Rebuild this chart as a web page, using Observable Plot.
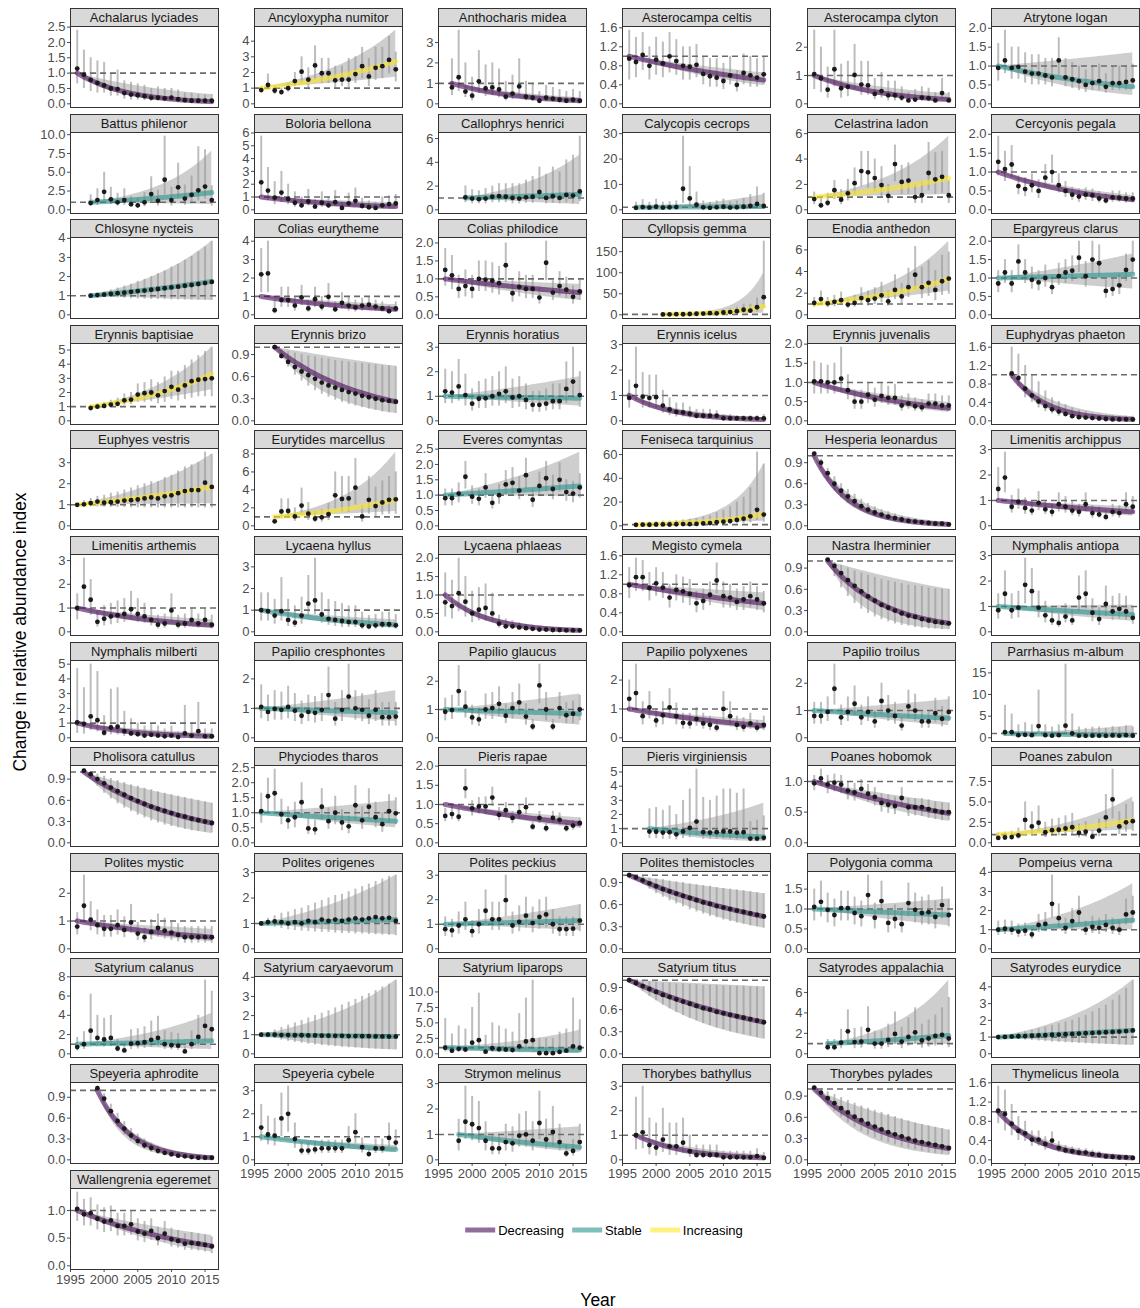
<!DOCTYPE html>
<html><head><meta charset="utf-8">
<script src="https://cdn.jsdelivr.net/npm/d3@7"></script>
<script src="https://cdn.jsdelivr.net/npm/@observablehq/plot@0.6"></script>
<style>
body{margin:0;background:#fff;}
#fig{position:relative;width:1140px;height:1308px;font-family:"Liberation Sans",Arial,sans-serif;overflow:hidden;background:#fff;}
.strip{position:absolute;background:#d9d9d9;border:1px solid #333;box-sizing:border-box;font-size:13px;color:#1a1a1a;text-align:center;white-space:nowrap;overflow:hidden;}
.pn{position:absolute;}
.ttl{position:absolute;font-size:17.5px;color:#000;white-space:nowrap;}
.leg{position:absolute;display:flex;align-items:center;font-size:13px;color:#000;}
.sw{display:inline-block;width:30px;height:5px;margin:0 3px 0 8px;}
</style></head><body><div id="fig"></div>
<script>
const species = ["Achalarus lyciades","Ancyloxypha numitor","Anthocharis midea","Asterocampa celtis","Asterocampa clyton","Atrytone logan",
"Battus philenor","Boloria bellona","Callophrys henrici","Calycopis cecrops","Celastrina ladon","Cercyonis pegala",
"Chlosyne nycteis","Colias eurytheme","Colias philodice","Cyllopsis gemma","Enodia anthedon","Epargyreus clarus",
"Erynnis baptisiae","Erynnis brizo","Erynnis horatius","Erynnis icelus","Erynnis juvenalis","Euphydryas phaeton",
"Euphyes vestris","Eurytides marcellus","Everes comyntas","Feniseca tarquinius","Hesperia leonardus","Limenitis archippus",
"Limenitis arthemis","Lycaena hyllus","Lycaena phlaeas","Megisto cymela","Nastra lherminier","Nymphalis antiopa",
"Nymphalis milberti","Papilio cresphontes","Papilio glaucus","Papilio polyxenes","Papilio troilus","Parrhasius m-album",
"Pholisora catullus","Phyciodes tharos","Pieris rapae","Pieris virginiensis","Poanes hobomok","Poanes zabulon",
"Polites mystic","Polites origenes","Polites peckius","Polites themistocles","Polygonia comma","Pompeius verna",
"Satyrium calanus","Satyrium caryaevorum","Satyrium liparops","Satyrium titus","Satyrodes appalachia","Satyrodes eurydice",
"Speyeria aphrodite","Speyeria cybele","Strymon melinus","Thorybes bathyllus","Thorybes pylades","Thymelicus lineola",
"Wallengrenia egeremet"];

const trendClass = ["D","I","D","D","D","S", "S","D","S","S","I","D", "S","D","D","I","I","S",
"I","D","S","D","D","D", "I","I","S","I","D","D", "D","S","D","D","D","S",
"D","S","S","D","S","S", "D","S","D","S","D","I", "D","S","S","D","S","S",
"S","S","S","D","S","S", "D","S","S","D","D","D", "D"];

const firstYear = [1996,1996,1997,1996,1996,1996, 1998,1996,1999,1997,1996,1996, 1998,1996,1996,2001,1996,1996,
1998,1998,1996,1996,1996,1998, 1996,1998,1996,1997,1996,1996, 1996,1996,1996,1996,1998,1996,
1996,1996,1996,1996,1996,1997, 1997,1996,1996,1999,1996,1996, 1996,1996,1996,1996,1996,1996,
1996,1996,1996,1996,1998,1996, 1999,1996,1998,1997,1996,1996, 1996];

const yStep = [0.5,1,1,0.4,1,0.5, 2.5,1,2,10,2,0.5, 1,1,0.5,50,2,0.5, 1,0.3,1,1,0.5,0.4,
1,2,0.5,20,0.3,1, 1,1,0.5,0.4,0.3,1, 1,1,1,1,1,5, 0.3,0.5,0.5,1,0.5,2.5,
1,1,1,0.3,0.5,1, 2,1,2.5,0.3,2,1, 0.3,1,1,1,0.3,0.4, 0.5];

const yearTicks = [1995,2000,2005,2010,2015];

// annual index values
const index = [
[1.15,.95,.78,.68,.6,.5,.48,.35,.3,.28,.25,.2,.2,.18,.2,.15,.12,.1,.1,.1,.1],
[.88,1.2,.85,.75,1.0,1.45,2.05,1.55,2.45,1.95,1.95,1.5,1.55,1.55,1.9,2.4,1.75,2.3,2.4,2.8,2.2],
[.8,1.3,.6,.4,1.1,.75,.8,.7,.35,.5,.85,.35,.3,.15,.3,.25,.2,.15,.2,.15],
[.95,.88,1.03,.8,.93,.85,1.0,.9,.8,.78,.82,.63,.58,.55,.48,.6,.4,.65,.6,.55,.62],
[1.05,.9,.5,1.22,.55,.6,1.02,.68,.65,.35,.45,.3,.3,.22,.12,.15,.22,.2,.12,.38,.12],
[.95,1.15,.95,.98,.85,.8,.8,.75,.7,1.15,.7,.65,.6,.5,.55,.6,.45,.55,.55,.58,.62],
[.9,1.3,2.4,1.4,1.0,1.3,.75,.6,1.0,2.1,1.2,4.0,1.3,3.0,1.5,2.0,2.6,3.1,1.3],
[2.15,1.5,.95,1.35,.85,.55,.35,.65,.25,.55,.35,.6,.15,.5,.7,.3,.2,.15,.35,.45,.5],
[1.05,.95,.9,.95,1.1,1.15,1.1,1.0,.95,1.05,1.1,1.5,1.0,1.15,1.0,1.25,1.2,1.55],
[.8,1.1,.9,1.2,.9,1.0,1.1,8.3,4.5,2.0,1.0,.8,1.0,1.2,.9,1.0,1.2,1.5,2.3,1.5],
[.85,.35,.55,1.55,.8,1.3,2.1,3.05,2.95,2.5,1.95,1.1,3.6,2.2,2.3,1.0,1.15,2.9,2.4,2.6,1.15],
[1.27,1.08,1.2,.63,.55,.65,.5,.85,1.0,.65,.5,.4,.35,.4,.38,.3,.25,.33,.32,.3,.3],
[1.0,1.03,1.06,1.1,1.13,1.16,1.2,1.24,1.27,1.31,1.35,1.39,1.43,1.47,1.52,1.56,1.61,1.66,1.72],
[2.2,2.25,.25,.8,.8,.5,.95,.35,.85,.45,.98,.3,.65,.5,.4,.5,.55,.45,.35,.2,.35],
[1.25,1.1,.72,.8,.72,1.0,.98,.95,.88,1.38,.6,.78,.72,.72,.48,1.45,.62,.8,.7,.5,.65],
[1.0,1.2,1.5,1.3,2.0,2.5,3.0,4.0,3.5,5.5,6.5,8.5,12,10,18,42],
[1.1,1.45,1.05,1.2,1.35,.95,1.1,1.55,1.35,1.5,1.8,1.25,2.3,1.7,2.55,3.7,2.55,2.95,2.3,3.1,3.35],
[.85,1.15,.85,1.45,1.15,.95,.88,1.0,.75,1.05,1.15,1.2,1.55,1.05,1.5,1.4,.65,.7,.8,1.22,1.5],
[.9,1.0,1.05,1.15,1.2,1.45,1.5,1.85,1.95,2.0,1.8,2.1,2.4,2.2,2.5,2.8,2.9,2.95,3.0],
[1.0,.88,.8,.73,.67,.62,.57,.52,.48,.45,.42,.39,.37,.34,.32,.3,.28,.27,.26],
[1.2,1.15,1.4,1.05,.7,.9,.92,1.0,1.1,1.2,.95,1.0,.85,.65,.65,.7,.8,.8,1.3,1.6,1.05],
[.9,1.38,.95,.9,.93,.6,.45,.35,.33,.28,.2,.2,.2,.2,.1,.1,.1,.1,.1,.1,.1],
[1.03,1.03,1.0,1.0,1.1,.8,.5,.5,.68,.55,.65,.6,.6,.4,.45,.38,.35,.45,.45,.4,.4],
[1.03,.93,.7,.55,.42,.32,.25,.2,.15,.1,.08,.07,.06,.05,.04,.03,.03,.03,.03],
[1.0,1.02,1.08,1.15,1.1,1.12,1.15,1.2,1.22,1.25,1.3,1.35,1.3,1.4,1.45,1.55,1.65,1.7,1.7,2.05,1.85],
[.5,1.6,1.65,1.05,2.25,1.35,.8,.95,1.3,3.4,3.0,3.05,4.25,1.05,2.9,2.2,2.6,2.9,2.95],
[.9,.9,1.05,1.6,.95,.88,1.25,.75,1.0,1.35,1.4,1.15,1.65,.85,1.3,1.55,1.2,1.5,1.1,1.05,1.25],
[.8,1.0,.9,1.1,1.2,1.1,1.3,1.5,1.4,1.6,2.0,2.3,3.0,3.5,4.0,5.0,6.0,8.0,13.5,9.5],
[1.03,.9,.75,.6,.5,.42,.35,.28,.23,.19,.16,.13,.11,.09,.07,.06,.05,.04,.03,.03,.02],
[1.45,1.9,.75,.95,.7,.6,.9,.65,.55,.85,.75,.6,.55,.85,.5,.45,.35,.55,.5,.85,.75],
[1.0,1.9,1.35,.42,.55,.65,.7,.75,.95,.75,.65,.5,.3,.35,.9,.3,.35,.5,.35,.5,.3],
[1.0,.95,.75,.95,.55,.42,.75,1.3,1.45,.8,.6,.55,.5,.45,.45,.3,.25,.3,.35,.35,.3],
[.8,.7,1.05,.82,.5,.6,.65,.5,.22,.15,.15,.12,.1,.08,.06,.06,.05,.05,.04,.04,.04],
[.98,1.15,1.15,.92,1.02,.93,.72,.88,.85,.8,.6,.65,.78,1.08,.75,.72,.63,.68,.75,.68,.6],
[1.02,.93,.83,.73,.65,.57,.5,.44,.38,.34,.3,.26,.23,.21,.18,.16,.14,.13,.12],
[.85,1.5,.85,.95,1.85,1.6,.95,.65,.45,.35,.6,.45,1.35,1.5,.75,.5,1.1,.8,.9,.8,.55],
[1.05,.95,1.45,1.2,.35,.7,.75,.45,.3,.25,.15,.2,.15,.1,.15,.05,.3,.15,.45,.1,.1],
[1.05,.88,.98,.95,1.05,.92,.75,.88,.85,.95,1.45,.65,.95,1.4,1.0,.95,.75,.95,.7,.7,.72],
[.92,.98,1.65,1.1,.72,.65,1.0,1.05,1.2,.78,1.05,1.25,.75,.4,1.85,1.0,.4,1.05,.8,.85,1.0],
[1.35,1.55,.75,1.05,.6,.78,1.05,.75,.52,.5,.65,.5,.45,.35,1.0,.75,.45,.38,.5,.35,.45],
[.8,.8,.95,1.8,.75,.95,1.25,.75,.95,.6,1.35,1.0,.8,.45,1.15,1.0,.6,.6,.9,.7,.95],
[1.3,1.3,.6,.7,.6,2.7,.6,.5,.6,2.8,1.0,.5,.45,.5,.5,.45,.55,.5,.6,.5],
[1.02,.97,.9,.84,.78,.73,.68,.63,.59,.55,.51,.48,.45,.42,.39,.37,.34,.32,.3,.28],
[1.05,1.55,1.65,.95,.75,.85,1.35,.48,.45,1.2,.72,1.0,.68,.55,1.25,.75,1.2,.85,.62,1.05,.98],
[.7,.75,.68,1.42,.9,.95,.95,1.18,.73,.85,.65,.8,.93,.42,.65,.38,.65,.6,.38,.45,.52],
[.8,.78,.72,.75,.6,.8,1.05,1.5,.75,.72,.75,.8,.8,.72,.75,.3,.3,.35],
[.97,1.05,.95,.98,.95,.85,.82,.88,.8,.75,.65,.62,.6,.73,.58,.58,.58,.55,.52,.5,.5],
[.6,.65,.7,.9,2.8,2.0,2.45,1.3,1.55,1.6,1.75,1.9,1.2,1.35,.75,1.5,3.1,5.3,2.0,2.5,2.65],
[.8,1.55,1.05,.85,.72,.72,.85,.68,.95,.55,.42,.6,.75,.65,.58,.5,.42,.42,.42,.42,.42],
[1.0,1.05,1.08,1.05,1.0,1.05,1.0,1.1,1.05,1.15,1.1,1.15,1.1,1.15,1.2,1.15,1.2,1.25,1.2,1.22,1.1],
[.8,.75,.95,1.2,.72,1.0,1.55,1.2,1.2,1.98,.95,1.1,1.35,1.05,1.3,1.4,1.0,.8,.8,.82,1.15],
[1.0,.97,.93,.89,.85,.81,.78,.75,.72,.69,.66,.63,.61,.58,.56,.54,.52,.5,.48,.46,.44],
[1.05,1.18,.98,.85,1.02,1.02,.9,.82,1.35,.78,1.2,.65,.75,.62,1.15,.98,.9,.92,.8,1.1,.85],
[1.0,1.05,1.0,.9,.95,.75,1.25,1.3,2.35,1.6,1.1,1.45,1.9,1.0,1.15,1.1,1.25,1.1,1.0,1.8,1.9],
[.7,1.0,2.4,1.65,1.5,1.65,.55,.35,1.05,1.1,1.2,1.45,1.65,1.0,.9,.85,.25,1.0,1.75,2.9,2.55],
[1.0,1.0,1.0,.98,.98,.97,.97,.96,.96,.95,.95,.94,.94,.93,.93,.92,.92,.91,.91,.9,.9],
[1.0,.5,.8,.7,1.8,2.2,.35,.9,.75,.7,.6,1.2,2.0,2.2,.1,.1,.1,.3,.5,1.2,1.0],
[1.0,.96,.92,.88,.84,.8,.77,.74,.71,.68,.65,.62,.6,.57,.55,.53,.51,.49,.47,.45,.43],
[.65,.65,1.1,2.2,1.15,1.2,2.35,1.0,1.0,1.35,1.95,1.2,1.65,2.1,1.3,1.5,1.75,1.85,1.5],
[1.0,1.01,1.03,1.05,1.06,1.08,1.1,1.12,1.14,1.15,1.17,1.19,1.21,1.23,1.25,1.27,1.29,1.31,1.33,1.36,1.4],
[1.03,.88,.7,.56,.45,.35,.27,.21,.17,.13,.1,.08,.06,.05,.04,.03,.03,.03],
[1.4,1.1,1.05,1.8,2.0,.9,.4,.4,.45,.5,.5,.5,.5,.85,1.2,.55,.25,.5,.5,.95,.75],
[.75,1.5,1.4,1.25,.75,.45,.45,.7,.65,.95,1.0,.75,1.45,.8,1.1,.7,.25,.35,.7],
[1.0,1.12,.6,.5,.82,.55,.55,.7,.35,.2,.2,.2,.2,.1,.1,.1,.1,.1,.15,.08],
[1.02,.95,.87,.8,.73,.67,.61,.56,.51,.47,.43,.39,.36,.33,.3,.27,.25,.23,.21,.19,.17],
[1.02,.95,.75,.6,.55,.42,.42,.33,.4,.25,.2,.18,.15,.15,.12,.1,.07,.06,.05,.05,.04],
[1.03,.93,.95,.85,.8,.82,.72,.72,.75,.62,.58,.63,.5,.58,.48,.45,.4,.41,.4,.38,.35]
];

// lower ends of the annual error bars
const lower = [
[.65,.5,.4,.35,.35,.25,.25,.15,.12,.12,.1,.08,.08,.07,.08,.05,.04,.03,.03,.03,.03],
[.7,.9,.6,.55,.75,1.1,1.3,1.0,1.5,1.3,1.3,1.0,1.1,1.05,1.3,1.6,1.1,1.5,1.6,1.9,1.4],
[.4,.6,.3,.15,.5,.35,.4,.3,.15,.2,.4,.15,.1,.05,.1,.1,.05,.05,.05,.05],
[.5,.55,.7,.5,.6,.55,.65,.6,.5,.5,.55,.4,.35,.35,.3,.4,.25,.4,.35,.35,.4],
[.5,.4,.2,.6,.2,.25,.5,.3,.3,.15,.2,.1,.1,.08,.04,.05,.08,.07,.04,.15,.04],
[.6,.8,.65,.65,.55,.5,.5,.5,.45,.75,.45,.4,.35,.3,.35,.35,.28,.35,.35,.35,.4],
[.5,.6,1.2,.7,.5,.6,.3,.2,.4,1.0,.5,2.0,.5,1.4,.6,.8,1.2,1.4,.5],
[1.0,.7,.4,.6,.4,.2,.1,.3,.08,.2,.12,.25,.05,.2,.3,.1,.05,.05,.1,.15,.2],
[.6,.5,.5,.5,.6,.6,.6,.5,.5,.55,.55,.8,.5,.55,.5,.6,.5,.7],
[.3,.4,.3,.4,.3,.3,.4,2.5,1.2,.5,.3,.3,.3,.4,.3,.3,.4,.5,.8,.5],
[.4,.1,.25,.8,.4,.7,1.2,1.8,1.7,1.4,1.0,.5,2.2,1.2,1.2,.5,.5,1.5,1.2,1.3,.5],
[.9,.75,.85,.4,.35,.45,.3,.6,.7,.45,.33,.25,.2,.25,.22,.18,.15,.2,.2,.18,.18],
[.98,.95,.92,.9,.88,.86,.84,.83,.82,.8,.8,.79,.78,.78,.77,.77,.76,.76,.75],
[1.2,1.2,.05,.4,.4,.2,.5,.15,.4,.2,.5,.12,.3,.2,.15,.2,.25,.2,.15,.05,.15],
[.8,.7,.45,.5,.45,.65,.65,.6,.55,.9,.35,.5,.45,.45,.3,.95,.4,.5,.45,.3,.4],
[.3,.4,.5,.4,.7,.9,1.0,1.5,1.2,2.0,2.5,3.0,4.5,3.5,6.5,15],
[.7,.9,.65,.75,.85,.6,.7,1.0,.8,.95,1.1,.8,1.4,1.0,1.6,2.3,1.5,1.7,1.3,1.8,1.9],
[.6,.85,.6,1.05,.85,.7,.65,.75,.55,.8,.85,.9,1.15,.75,1.1,1.05,.45,.5,.55,.9,1.1],
[.75,.85,.85,.95,1.0,1.1,1.15,1.3,1.3,1.35,1.2,1.3,1.5,1.4,1.5,1.6,1.7,1.7,1.7],
[1.0,.85,.73,.62,.54,.47,.41,.36,.32,.28,.25,.22,.2,.18,.16,.14,.12,.11,.1],
[.7,.7,.8,.6,.4,.5,.5,.6,.6,.7,.5,.55,.45,.35,.35,.4,.45,.45,.7,.9,.55],
[.5,.8,.5,.5,.5,.3,.2,.15,.15,.1,.08,.08,.08,.07,.03,.03,.02,.02,.02,.02,.03],
[.7,.7,.7,.7,.75,.55,.3,.3,.45,.35,.45,.4,.4,.25,.3,.25,.22,.3,.3,.25,.25],
[.9,.75,.5,.4,.28,.2,.15,.1,.08,.05,.04,.03,.02,.02,.01,.01,.01,.01,.01],
[.95,.92,.9,.9,.88,.88,.87,.87,.86,.86,.85,.85,.85,.85,.85,.85,.85,.85,.85,.85,.85],
[.2,.8,.8,.5,1.2,.6,.35,.4,.6,1.8,1.5,1.5,2.3,.4,1.3,1.0,1.2,1.3,1.3],
[.65,.65,.75,1.2,.7,.65,.9,.55,.7,1.0,1.0,.85,1.2,.6,.95,1.1,.85,1.1,.8,.75,.9],
[.3,.4,.3,.4,.4,.4,.5,.5,.5,.6,.7,.8,1.0,1.2,1.4,1.7,2.0,2.6,4.5,3.0],
[.95,.8,.65,.5,.4,.32,.26,.21,.17,.13,.1,.08,.06,.05,.04,.03,.02,.02,.01,.01,.01],
[1.0,1.3,.5,.65,.45,.4,.6,.45,.35,.55,.5,.4,.35,.55,.3,.3,.2,.35,.3,.55,.5],
[.5,1.0,.7,.2,.25,.3,.35,.4,.5,.4,.35,.25,.12,.15,.45,.12,.15,.25,.15,.25,.12],
[.5,.5,.35,.5,.25,.2,.35,.7,.8,.4,.3,.25,.2,.2,.2,.12,.1,.12,.15,.15,.12],
[.4,.35,.55,.4,.25,.3,.3,.25,.1,.07,.07,.05,.04,.03,.02,.02,.02,.02,.02,.02,.02],
[.7,.85,.85,.65,.75,.7,.5,.65,.6,.55,.4,.45,.55,.8,.5,.5,.45,.45,.5,.45,.4],
[1.0,.78,.62,.5,.4,.32,.26,.21,.17,.14,.11,.09,.08,.06,.05,.04,.04,.03,.03],
[.5,.9,.5,.55,1.1,.95,.55,.35,.25,.18,.35,.25,.8,.9,.4,.25,.6,.45,.5,.45,.3],
[.3,.25,.5,.4,.1,.2,.2,.1,.08,.05,.03,.04,.03,.02,.03,.01,.05,.02,.08,.02,.02],
[.65,.55,.6,.6,.65,.55,.45,.55,.5,.55,.9,.4,.55,.9,.6,.55,.45,.55,.4,.4,.4],
[.6,.65,1.1,.7,.45,.4,.65,.65,.75,.5,.65,.8,.45,.25,1.2,.6,.25,.65,.5,.5,.6],
[.9,1.0,.45,.65,.35,.45,.65,.45,.3,.3,.4,.3,.25,.2,.6,.45,.25,.2,.3,.2,.25],
[.5,.5,.6,1.2,.45,.6,.8,.45,.6,.35,.85,.6,.5,.25,.7,.6,.35,.35,.55,.4,.6],
[.4,.4,.15,.2,.15,.8,.15,.12,.15,.8,.3,.12,.1,.12,.12,.1,.15,.12,.15,.12],
[1.0,.9,.8,.7,.62,.55,.49,.44,.39,.35,.31,.28,.25,.23,.21,.19,.17,.16,.15,.14],
[.65,1.0,1.05,.6,.45,.5,.85,.28,.25,.75,.45,.6,.4,.3,.75,.45,.75,.5,.35,.65,.6],
[.55,.6,.55,1.15,.7,.75,.75,.95,.58,.68,.5,.62,.73,.32,.5,.28,.5,.45,.28,.33,.38],
[.3,.3,.25,.25,.2,.3,.35,.5,.25,.25,.25,.25,.25,.2,.25,.08,.08,.1],
[.85,.92,.8,.83,.8,.7,.68,.73,.66,.6,.5,.48,.46,.58,.43,.44,.43,.4,.38,.36,.36],
[.3,.35,.35,.45,1.5,1.0,1.3,.65,.8,.85,.9,1.0,.6,.7,.35,.75,1.7,2.9,1.0,1.3,1.4],
[.5,1.0,.65,.5,.42,.42,.5,.4,.55,.3,.22,.32,.42,.35,.3,.25,.2,.2,.2,.2,.2],
[.98,.9,.85,.8,.75,.72,.7,.68,.66,.65,.64,.62,.6,.6,.58,.58,.56,.55,.54,.53,.52],
[.5,.45,.6,.75,.45,.6,1.0,.75,.75,1.3,.6,.7,.85,.65,.8,.85,.6,.5,.5,.5,.7],
[1.0,.93,.87,.81,.75,.7,.65,.61,.57,.53,.5,.47,.44,.42,.39,.37,.35,.33,.31,.3,.28],
[.7,.8,.65,.55,.7,.7,.6,.55,.95,.5,.85,.4,.5,.4,.8,.65,.6,.6,.5,.75,.55],
[.7,.75,.7,.6,.65,.5,.85,.9,1.6,1.1,.75,1.0,1.3,.7,.8,.75,.85,.75,.7,1.25,1.3],
[.3,.45,1.1,.75,.7,.75,.2,.12,.45,.5,.55,.65,.75,.45,.4,.35,.08,.45,.8,1.3,1.1],
[1.0,.9,.8,.72,.65,.6,.55,.5,.46,.43,.4,.37,.34,.32,.3,.28,.26,.24,.23,.22,.21],
[.3,.12,.25,.2,.6,.7,.08,.25,.2,.2,.15,.35,.65,.7,.01,.01,.01,.05,.12,.35,.3],
[1.0,.92,.85,.78,.72,.66,.61,.56,.52,.48,.45,.41,.38,.35,.33,.3,.28,.26,.24,.22,.2],
[.3,.3,.5,1.0,.5,.55,1.1,.45,.45,.6,.9,.5,.75,.95,.55,.65,.75,.8,.6],
[1.0,.95,.9,.86,.82,.79,.76,.73,.7,.68,.66,.64,.62,.6,.58,.57,.56,.55,.54,.53,.52],
[1.0,.82,.62,.47,.36,.27,.2,.15,.11,.08,.06,.05,.04,.03,.02,.02,.01,.01],
[.8,.65,.6,1.0,1.2,.5,.2,.2,.25,.28,.28,.28,.28,.5,.7,.3,.12,.28,.28,.55,.4],
[.35,.8,.75,.65,.35,.2,.2,.35,.3,.5,.5,.35,.8,.4,.55,.35,.1,.15,.35],
[.4,.45,.2,.15,.3,.18,.18,.25,.1,.05,.05,.05,.05,.02,.02,.02,.02,.02,.03,.01],
[1.0,.88,.77,.68,.6,.52,.46,.4,.35,.31,.27,.24,.21,.18,.16,.14,.12,.1,.09,.08,.07],
[.75,.6,.5,.4,.38,.28,.28,.2,.27,.15,.12,.1,.08,.08,.06,.05,.03,.03,.02,.02,.02],
[.8,.72,.72,.65,.6,.62,.54,.54,.55,.45,.42,.46,.36,.42,.34,.32,.28,.28,.27,.25,.22]
];

// upper ends of the annual error bars
const upper = [
[2.4,1.75,1.5,1.4,1.35,1.0,1.1,.75,.7,.65,.6,.5,.55,.5,.5,.45,.35,.35,.3,.3,.3],
[1.1,1.9,1.1,1.0,1.3,2.0,3.0,2.3,3.7,2.9,2.9,2.4,2.4,2.9,3.0,3.6,2.9,3.6,3.6,4.3,3.3],
[2.2,3.6,2.0,1.3,2.6,1.9,2.0,1.7,1.1,1.4,2.2,1.1,1.0,.6,.9,.8,.7,.6,.7,.6],
[1.55,1.4,1.5,1.2,1.4,1.3,1.5,1.35,1.2,1.2,1.25,1.0,.95,.95,.85,1.0,.7,1.05,1.0,.95,1.0],
[2.6,2.0,1.3,2.6,1.4,1.5,2.1,1.5,1.5,.9,1.1,.8,.8,.6,.4,.5,.6,.55,.4,.9,.4],
[1.6,1.95,1.5,1.5,1.35,1.3,1.3,1.2,1.2,1.75,1.2,1.1,1.0,.9,1.0,1.05,.8,1.0,1.0,1.0,1.05],
[2.0,2.8,5.0,3.0,2.2,2.8,1.8,1.5,2.3,4.4,2.6,9.8,3.0,6.2,3.3,4.5,8.4,8.0,3.2],
[5.75,3.3,2.2,3.0,2.0,1.4,1.0,1.6,.8,1.4,1.0,1.5,.6,1.3,1.7,.9,.7,.6,1.0,1.1,1.2],
[2.0,1.7,1.6,1.8,2.0,2.2,2.2,2.2,2.2,2.5,2.8,3.6,3.0,3.6,3.2,4.2,4.6,6.2],
[3.0,4.0,3.0,4.2,3.0,3.2,3.5,29,17,7,3.5,3.0,3.5,4.2,3.2,3.5,4.5,6.0,9.0,6.5],
[1.4,.9,1.3,2.3,1.6,2.4,3.3,4.6,4.6,4.0,3.4,2.0,5.1,3.5,3.7,2.0,2.2,5.3,4.5,4.6,2.3],
[1.95,1.55,1.7,.9,.85,.95,.8,1.2,1.45,.95,.75,.6,.55,.58,.55,.48,.42,.5,.5,.45,.45],
[1.02,1.1,1.2,1.3,1.4,1.5,1.6,1.75,1.85,2.0,2.15,2.3,2.5,2.65,2.85,3.05,3.3,3.55,3.85],
[3.6,4.0,.8,1.5,1.5,1.0,1.6,.8,1.5,1.0,1.7,.7,1.2,1.0,.8,.9,1.0,.8,.7,.5,.7],
[1.85,1.65,1.1,1.25,1.1,1.5,1.5,1.45,1.35,2.0,.95,1.2,1.1,1.1,.75,2.05,.95,1.2,1.05,.8,1.0],
[3,3.5,4,4,5,6,7,9,9,12,14,18,25,25,40,175],
[1.6,2.2,1.6,1.8,2.1,1.5,1.8,2.5,2.2,2.5,3.0,2.2,3.7,2.9,4.3,6.3,4.4,5.0,4.1,5.5,5.8],
[1.2,1.5,1.2,1.9,1.5,1.3,1.2,1.35,1.05,1.4,1.5,1.6,2.0,1.45,2.0,1.9,.95,1.0,1.1,1.65,2.0],
[1.1,1.2,1.3,1.45,1.6,1.9,2.0,2.6,2.7,2.9,2.7,3.1,3.5,3.5,3.9,4.3,4.6,4.9,5.2],
[1.0,.96,.94,.92,.9,.88,.87,.85,.84,.82,.81,.8,.79,.78,.77,.76,.75,.75,.74],
[2.1,2.0,2.5,1.9,1.3,1.6,1.7,1.8,2.0,2.2,1.7,1.8,1.5,1.2,1.2,1.3,1.5,1.5,2.4,3.0,2.0],
[1.6,2.9,1.9,1.8,1.8,1.2,.9,.7,.7,.55,.45,.45,.45,.4,.25,.25,.2,.2,.2,.2,.25],
[1.55,1.5,1.45,1.5,1.92,1.2,.8,.8,1.0,.85,1.0,.9,.95,.65,.7,.6,.55,.7,.7,.65,.65],
[1.6,1.45,1.2,1.0,.85,.65,.5,.42,.35,.28,.23,.2,.17,.14,.12,.11,.1,.1,.1],
[1.05,1.2,1.3,1.4,1.45,1.55,1.6,1.7,1.8,1.9,2.0,2.1,2.1,2.3,2.4,2.6,2.8,2.9,3.0,3.5,3.4],
[1.1,3.0,3.0,2.0,4.2,2.6,1.6,1.8,2.5,6.0,5.5,5.5,7.5,2.2,5.5,4.3,5.0,5.5,6.0],
[1.2,1.2,1.4,2.1,1.3,1.2,1.7,1.05,1.35,1.8,1.9,1.6,2.2,1.2,1.75,2.1,1.65,2.05,1.5,1.45,1.7],
[2.5,3.0,3.0,3.5,4.0,4.0,4.5,5.0,5.5,6.0,7.5,8.5,11,13,16,20,24,32,62,52],
[1.05,.95,.82,.7,.6,.52,.45,.38,.32,.27,.23,.2,.17,.14,.12,.1,.08,.07,.06,.05,.05],
[2.3,2.9,1.2,1.45,1.1,.95,1.35,1.0,.85,1.3,1.15,.95,.85,1.3,.8,.75,.6,.85,.8,1.3,1.15],
[1.6,3.1,2.2,.9,1.1,1.2,1.3,1.4,1.7,1.4,1.2,1.0,.7,.75,1.6,.7,.75,1.0,.75,1.0,.7],
[1.8,1.8,1.5,2.5,1.5,1.2,1.6,2.6,3.4,1.8,1.5,1.4,1.3,1.2,1.2,.9,.75,.8,.9,.9,.8],
[1.6,1.4,2.0,1.5,1.1,1.2,1.3,1.05,.45,.35,.3,.25,.2,.17,.14,.12,.1,.1,.09,.09,.08],
[1.35,1.55,1.5,1.25,1.35,1.25,1.0,1.2,1.15,1.1,.85,.9,1.05,1.45,1.05,1.0,.9,.95,1.05,.95,.85],
[1.04,.98,.94,.9,.86,.83,.8,.77,.74,.72,.7,.68,.66,.65,.64,.62,.61,.6,.6],
[1.5,2.4,1.5,1.6,2.9,2.5,1.6,1.2,.85,.7,1.1,.85,2.2,2.4,1.3,.95,1.8,1.4,1.5,1.4,1.0],
[4.7,3.4,5.0,4.5,1.5,3.3,3.4,1.8,1.3,1.0,.8,.9,.8,.6,.8,.4,2.2,1.0,2.4,.6,.6],
[1.8,1.45,1.6,1.55,1.75,1.5,1.25,1.45,1.4,1.5,2.4,1.2,1.6,2.5,1.6,1.5,1.3,1.6,1.2,1.2,1.2],
[1.4,1.5,2.55,1.65,1.15,1.05,1.55,1.6,1.8,1.2,1.6,1.9,1.2,.65,2.6,1.6,.65,1.6,1.25,1.3,1.5],
[2.0,2.55,1.25,1.6,1.0,1.25,1.7,1.2,.85,.85,1.05,.85,.75,.6,1.6,1.25,.75,.7,.85,.6,.75],
[1.3,1.3,1.5,2.7,1.2,1.5,1.9,1.2,1.5,1.0,2.0,1.55,1.3,.75,1.75,1.6,1.0,1.0,1.45,1.15,1.5],
[7.5,5.5,3.0,3.5,3.0,11,3.0,2.5,3.0,17,5.5,2.5,2.2,2.5,2.5,2.2,2.6,2.4,2.8,2.5],
[1.04,1.0,.97,.94,.91,.88,.85,.82,.8,.77,.75,.72,.7,.68,.66,.64,.62,.6,.58,.56],
[1.65,2.15,2.45,1.45,1.2,1.35,2.0,.8,.75,1.8,1.15,1.55,1.1,.9,1.9,1.2,1.8,1.35,1.0,1.6,1.5],
[.9,.95,.88,1.92,1.1,1.18,1.2,1.45,.92,1.05,.82,1.0,1.17,.55,.82,.5,.82,.78,.5,.58,.65],
[2.4,2.5,2.3,2.6,2.0,3.0,3.8,5.2,3.2,3.0,3.3,3.8,3.8,3.5,3.8,1.5,1.6,1.9],
[1.1,1.2,1.1,1.12,1.1,1.0,.97,1.03,.95,.9,.8,.78,.75,.9,.72,.72,.72,.7,.67,.65,.65],
[1.2,1.3,1.4,1.8,5.0,3.8,4.5,2.5,2.9,3.0,3.3,3.6,2.3,2.6,1.5,2.9,5.9,9.0,3.8,4.7,5.0],
[1.3,2.65,1.7,1.4,1.2,1.2,1.4,1.15,1.6,.95,.75,1.05,1.25,1.1,1.0,.9,.8,.8,.8,.8,.8],
[1.02,1.2,1.3,1.4,1.45,1.55,1.6,1.7,1.8,1.9,2.0,2.1,2.15,2.25,2.35,2.45,2.55,2.65,2.75,2.85,2.9],
[1.3,1.2,1.5,1.9,1.15,1.6,2.4,1.9,1.9,3.0,1.5,1.75,2.1,1.7,2.0,2.1,1.6,1.3,1.3,1.3,1.8],
[1.0,.99,.98,.96,.95,.94,.92,.91,.9,.88,.87,.86,.85,.83,.82,.81,.8,.79,.78,.76,.75],
[1.5,1.7,1.4,1.25,1.45,1.45,1.3,1.2,1.85,1.15,1.7,1.0,1.1,.95,1.65,1.4,1.3,1.35,1.2,1.55,1.25],
[1.45,1.5,1.45,1.3,1.35,1.1,1.8,1.9,3.85,2.35,1.6,2.1,2.75,1.45,1.7,1.6,1.8,1.6,1.45,2.6,2.75],
[1.7,2.3,6.2,4.0,3.7,4.0,1.5,1.0,2.5,2.6,2.8,3.4,3.9,2.4,2.2,2.1,.8,2.4,4.0,7.65,6.5],
[1.0,1.12,1.25,1.37,1.5,1.62,1.75,1.87,2.0,2.12,2.25,2.4,2.55,2.7,2.85,3.0,3.15,3.3,3.5,3.65,3.85],
[5.7,3.2,4.5,4.0,7.5,9.8,3.0,5.0,4.5,4.0,3.5,6.5,9.0,11.9,2.5,2.5,2.5,3.5,4.0,9.0,5.5],
[1.0,.99,.98,.98,.97,.96,.96,.95,.95,.94,.94,.93,.93,.93,.92,.92,.92,.92,.91,.91,.91],
[1.4,1.4,2.4,4.3,2.5,2.6,4.6,2.2,2.2,2.9,4.1,2.6,3.5,4.5,2.9,3.3,3.8,4.5,5.5],
[1.0,1.08,1.16,1.24,1.32,1.4,1.5,1.6,1.7,1.8,1.9,2.0,2.15,2.3,2.5,2.7,2.9,3.2,3.5,3.9,4.4],
[1.06,.95,.8,.67,.55,.45,.37,.3,.24,.19,.15,.12,.1,.08,.07,.06,.05,.05],
[2.4,1.9,1.8,2.9,3.2,1.6,.75,.75,.8,.85,.85,.85,.85,1.45,2.0,.95,.5,.9,.9,1.6,1.3],
[1.6,2.9,2.5,2.3,1.5,1.0,1.0,1.4,1.3,1.8,1.9,1.5,2.7,1.6,2.1,1.4,.6,.8,1.4],
[2.55,3.0,1.7,1.5,2.1,1.5,1.5,1.7,1.0,.6,.6,.6,.6,.35,.35,.35,.35,.35,.45,.3],
[1.04,1.0,.96,.92,.88,.84,.8,.76,.73,.7,.67,.64,.61,.58,.55,.52,.5,.48,.46,.44,.42],
[1.53,1.45,1.15,.9,.8,.6,.6,.48,.58,.38,.3,.27,.24,.23,.2,.17,.13,.12,.1,.1,.08],
[1.33,1.2,1.23,1.1,1.05,1.08,.95,.95,1.0,.85,.8,.85,.7,.8,.68,.64,.58,.6,.58,.56,.52]
];

// fitted trend in 2016 (relative to first year = 1): [estimate, lower band, upper band]
const fitEnd = [
[.07,.03,.3],[2.7,1.7,4.7],[.15,.08,.3],[.5,.38,.65],[.15,.08,.35],[.45,.22,1.35],
[2.3,.7,7.8],[.25,.1,.55],[1.3,.45,4.6],[1.3,.3,6.0],[2.5,1.2,5.8],[.27,.2,.38],
[1.75,.75,3.85],[.3,.18,.55],[.62,.4,.85],[20,4,100],[3.3,2.2,6.8],[1.1,.7,1.65],
[3.3,2.2,5.2],[.26,.1,.74],[.92,.6,1.8],[.05,.02,.12],[.33,.22,.48],[.03,.01,.09],
[1.85,1.05,3.4],[2.9,1.6,8.2],[1.3,.95,2.4],[10,4,52],[.02,.01,.05],[.55,.38,.75],
[.28,.15,.5],[.32,.18,.55],[.04,.02,.07],[.6,.45,.82],[.12,.03,.6],[.68,.42,1.05],
[.1,.05,.3],[.85,.55,1.6],[.85,.45,1.55],[.42,.28,.6],[.72,.45,1.4],[.6,.2,2.8],
[.28,.13,.56],[.72,.5,1.4],[.5,.38,.65],[.42,.08,2.8],[.48,.35,.65],[2.75,1.6,5.6],
[.42,.25,.7],[1.15,.55,2.9],[1.15,.75,1.8],[.44,.28,.75],[.85,.58,1.25],[1.5,1.0,3.4],
[1.35,.45,4.2],[.9,.2,3.85],[.6,.05,3.8],[.43,.2,.91],[1.8,.9,7.2],[1.4,.5,4.4],
[.03,.01,.05],[.45,.32,.62],[.5,.3,1.3],[.08,.04,.2],[.16,.06,.42],[.04,.02,.08],
[.36,.25,.55]
];

const legendLabels = ["Decreasing","Stable","Increasing"];
const legendKeys = ["D","S","I"];
const colors = {D:"#440154", S:"#21908C", I:"#FDE725"};

const fig = document.getElementById("fig");
const FONT = '"Liberation Sans", Arial, sans-serif';
const L0 = 69.5, PX = 184.3, PW = 148, T0 = 8, PY = 105.6, SH = 18, PH = 81, ML = 42, MB = 20;

species.forEach((name, i) => {
  const col = i % 6, row = Math.floor(i / 6);
  const left = L0 + col * PX, top = T0 + row * PY;
  const showX = row === 11 || (row === 10 && col > 0);
  const y0 = firstYear[i];
  const n = Math.min(index[i].length, lower[i].length, upper[i].length);
  const pts = d3.range(n).map(k => ({year: y0 + k, v: index[i][k], lo: lower[i][k], hi: upper[i][k]}));
  const [fe, fl, fh] = fitEnd[i];
  const span = 2016 - y0;
  const fit = d3.range(y0, 2016.001, 0.25).map(t => {
    const f = (t - y0) / span;
    return {year: t, fit: Math.pow(fe, f), lo: Math.pow(fl, f), hi: Math.pow(fh, f)};
  });
  const M = Math.max(1, fh, d3.max(pts, d => d.hi), d3.max(pts, d => d.v));
  const dom = [-0.05 * M, 1.05 * M];
  const st = yStep[i];
  const tk = d3.range(0, Math.floor(dom[1] / st + 1e-9) + 1).map(k => +(k * st).toFixed(3));
  const dec = Number.isInteger(st) ? 0 : 1;

  const strip = document.createElement("div");
  strip.className = "strip";
  strip.style.left = left + "px";
  strip.style.top = top + "px";
  strip.style.width = (PW + 1) + "px";
  strip.style.height = (SH + 1) + "px";
  strip.style.lineHeight = (SH - 1) + "px";
  strip.textContent = name;
  fig.appendChild(strip);

  const plot = Plot.plot({
    width: ML + PW + 1,
    height: 1 + PH + (showX ? MB : 0),
    marginLeft: ML, marginRight: 1, marginTop: 1, marginBottom: showX ? MB : 0,
    style: {fontFamily: FONT, fontSize: "13px", color: "#4d4d4d", background: "transparent", overflow: "visible"},
    x: {domain: [1995, 2017], ticks: yearTicks, tickFormat: d => String(d), tickSize: 3, tickPadding: 2, label: null, axis: showX ? "bottom" : null},
    y: {domain: dom, ticks: tk, tickFormat: d => d.toFixed(dec), tickSize: 3, tickPadding: 2, label: null},
    marks: [
      Plot.areaY(fit, {x: "year", y1: "lo", y2: "hi", fill: "#8a8a8a", fillOpacity: 0.42}),
      Plot.ruleX(pts, {x: "year", y1: "lo", y2: "hi", stroke: "#999", strokeOpacity: 0.65, strokeWidth: 2}),
      Plot.ruleY([1], {stroke: "#6b6b6b", strokeWidth: 1.6, strokeDasharray: "6,4"}),
      Plot.line(fit, {x: "year", y: "fit", stroke: colors[trendClass[i]], strokeWidth: 5, strokeOpacity: 0.58}),
      Plot.dot(pts, {x: "year", y: "v", r: 2.4, fill: "#1a1a1a"}),
      Plot.frame({stroke: "#333", strokeWidth: 1})
    ]
  });
  plot.classList.add("pn");
  plot.style.left = (left - ML) + "px";
  plot.style.top = (top + SH - 1) + "px";
  fig.appendChild(plot);
});

// axis titles
const yt = document.createElement("div");
yt.className = "ttl";
yt.textContent = "Change in relative abundance index";
yt.style.left = "20px"; yt.style.top = "632px";
yt.style.transform = "translate(-50%,-50%) rotate(-90deg)";
fig.appendChild(yt);
const xt = document.createElement("div");
xt.className = "ttl";
xt.textContent = "Year";
xt.style.left = "598px"; xt.style.top = "1300px";
xt.style.transform = "translate(-50%,-50%)";
fig.appendChild(xt);

// legend
const leg = document.createElement("div");
leg.className = "leg";
leg.style.left = "600px"; leg.style.top = "1230px";
leg.style.transform = "translate(-50%,-50%)";
legendKeys.forEach((k, j) => {
  const sw = document.createElement("span");
  sw.className = "sw";
  sw.style.background = colors[k];
  sw.style.opacity = "0.58";
  const lb = document.createElement("span");
  lb.textContent = legendLabels[j];
  leg.appendChild(sw); leg.appendChild(lb);
});
fig.appendChild(leg);
</script></body></html>
